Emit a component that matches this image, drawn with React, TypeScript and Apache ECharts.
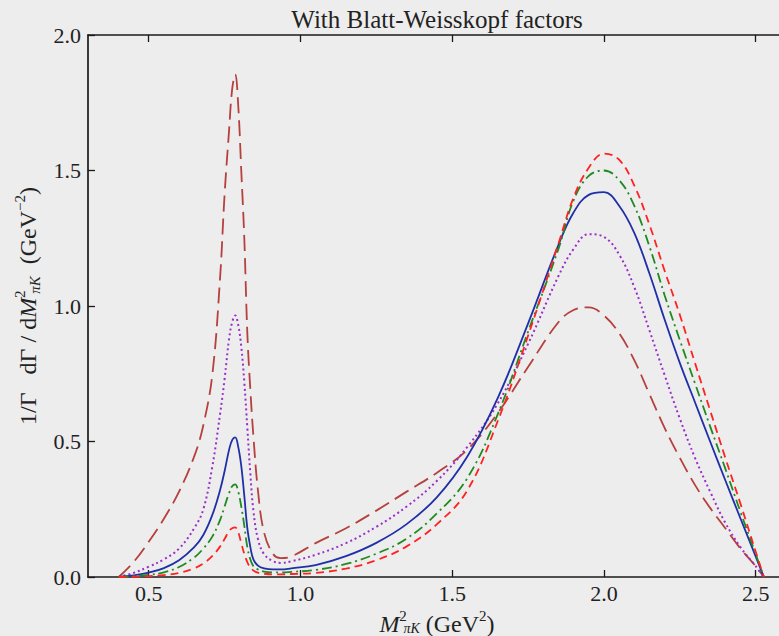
import React, { useEffect, useRef } from "react";
import * as echarts from "echarts";

// M^2_{piK} sample positions (GeV^2)
const xs = [0.401, 0.45, 0.5, 0.55, 0.6, 0.65, 0.68, 0.71, 0.735, 0.75, 0.765, 0.775, 0.785, 0.795, 0.805, 0.815, 0.825, 0.835, 0.845, 0.86, 0.88, 0.91, 0.935, 0.97, 1.05, 1.15, 1.25, 1.35, 1.45, 1.55, 1.65, 1.75, 1.85, 1.9, 1.95, 2.0, 2.05, 2.1, 2.15, 2.2, 2.25, 2.3, 2.35, 2.4, 2.45, 2.5, 2.527];

const brownLongDash = [0, 0.055, 0.13, 0.215, 0.315, 0.445, 0.56, 0.75, 1.1, 1.41, 1.65, 1.8, 1.855, 1.74, 1.5, 1.25, 0.9, 0.69, 0.52, 0.32, 0.165, 0.085, 0.07, 0.076, 0.125, 0.18, 0.245, 0.315, 0.385, 0.47, 0.605, 0.775, 0.94, 0.985, 0.995, 0.965, 0.9, 0.8, 0.675, 0.55, 0.44, 0.34, 0.255, 0.18, 0.105, 0.04, 0];
const purpleDotted = [0, 0.015, 0.038, 0.065, 0.105, 0.18, 0.25, 0.41, 0.6, 0.73, 0.88, 0.94, 0.965, 0.93, 0.85, 0.72, 0.55, 0.38, 0.245, 0.14, 0.085, 0.058, 0.052, 0.058, 0.082, 0.125, 0.185, 0.26, 0.355, 0.48, 0.64, 0.86, 1.11, 1.21, 1.265, 1.255, 1.19, 1.07, 0.91, 0.745, 0.585, 0.44, 0.315, 0.2, 0.11, 0.04, 0];
const blueSolid = [0, 0.006, 0.016, 0.033, 0.062, 0.11, 0.155, 0.23, 0.32, 0.39, 0.47, 0.505, 0.515, 0.48, 0.41, 0.3, 0.18, 0.11, 0.065, 0.042, 0.032, 0.028, 0.028, 0.032, 0.044, 0.077, 0.126, 0.195, 0.295, 0.445, 0.66, 0.935, 1.225, 1.345, 1.41, 1.42, 1.37, 1.27, 1.12, 0.95, 0.79, 0.645, 0.5, 0.357, 0.216, 0.076, 0];
const greenDashDot = [0, 0.003, 0.008, 0.017, 0.037, 0.072, 0.105, 0.15, 0.21, 0.26, 0.31, 0.335, 0.342, 0.315, 0.26, 0.19, 0.11, 0.065, 0.04, 0.028, 0.02, 0.017, 0.017, 0.019, 0.026, 0.048, 0.086, 0.142, 0.235, 0.365, 0.6, 0.905, 1.21, 1.39, 1.48, 1.5, 1.465, 1.37, 1.22, 1.04, 0.875, 0.715, 0.556, 0.4, 0.24, 0.085, 0];
const redDashed = [0, 0.001, 0.003, 0.007, 0.015, 0.032, 0.05, 0.078, 0.112, 0.14, 0.17, 0.18, 0.183, 0.165, 0.125, 0.085, 0.055, 0.035, 0.024, 0.016, 0.012, 0.01, 0.01, 0.011, 0.015, 0.031, 0.062, 0.113, 0.195, 0.32, 0.575, 0.89, 1.23, 1.4, 1.51, 1.562, 1.54, 1.445, 1.3, 1.13, 0.968, 0.79, 0.615, 0.44, 0.27, 0.094, 0];

const xTicks = [0.5, 1.0, 1.5, 2.0, 2.5];
const titleText = "With Blatt-Weisskopf factors";

const FONT = "Liberation Serif";
const TXT = "#222222";

export default function App() {
  const ref = useRef<HTMLDivElement>(null);
  useEffect(() => {
    if (!ref.current) return;
    const chart = echarts.init(ref.current, null, { renderer: "svg" });
    const pair = (ys: number[]) => xs.map((x, i) => [x, ys[i]]);
    const base = { fontFamily: FONT, color: TXT, fontSize: 24 };
    const richY = {
      n: { ...base },
      it: { ...base, fontStyle: "italic" },
      sup: { ...base, fontSize: 15, padding: [0, 0, 16, 3], width: 1 },
      supn: { ...base, fontSize: 15, padding: [0, 0, 16, 0] },
      sub: { ...base, fontSize: 15, fontStyle: "italic", padding: [14, 0, 0, 0] },
    };
    const richX = {
      n: { ...base },
      it: { ...base, fontStyle: "italic" },
      sup: { ...base, fontSize: 15, padding: [0, 0, 16, 3], width: 1 },
      supn: { ...base, fontSize: 15, padding: [0, 0, 16, 0] },
      sub: { ...base, fontSize: 14, fontStyle: "italic", padding: [9, 0, 0, 0] },
    };
    const axisLine = { show: true, lineStyle: { color: "#1a1a1a", width: 1.7 } };
    const tickStyle = { color: "#1a1a1a", width: 1.3 };
    const mkSeries = (name: string, ys: number[], color: string, type: any, width: number) => ({
      name,
      type: "line",
      data: pair(ys),
      showSymbol: false,
      smooth: 0.4,
      xAxisIndex: 0,
      yAxisIndex: 0,
      lineStyle: { color, width, type, cap: "butt" },
    });
    chart.setOption({
      animation: false,
      backgroundColor: "#ededed",
      graphic: [
        {
          type: "text",
          x: 437,
          y: 19,
          style: {
            text: titleText,
            fill: TXT,
            font: `25px "${FONT}"`,
            textAlign: "center",
            textVerticalAlign: "middle",
          },
        },
      ],
      grid: { left: 88, top: 35, right: -7, bottom: 59, outerBoundsMode: "none", containLabel: false },
      xAxis: [
        {
          type: "value",
          min: 0.3,
          max: 2.6,
          position: "bottom",
          axisLine,
          axisTick: { show: true, inside: true, length: 7, customValues: xTicks, lineStyle: tickStyle },
          axisLabel: {
            customValues: xTicks,
            formatter: (v: number) => v.toFixed(1),
            fontFamily: FONT,
            fontSize: 22,
            color: TXT,
            margin: 5,
          },
          splitLine: { show: false },
          name: "{it|M}{sup|2}{sub|πK} {n|(GeV}{supn|2}{n|)}",
          nameLocation: "middle",
          nameGap: 30,
          nameTextStyle: { rich: richX, fontFamily: FONT, fontSize: 24, color: TXT },
        },
        {
          type: "value",
          min: 0.3,
          max: 2.6,
          position: "top",
          axisLine,
          axisTick: { show: true, inside: true, length: 7, customValues: xTicks, lineStyle: tickStyle },
          axisLabel: { show: false },
          splitLine: { show: false },
        },
      ],
      yAxis: {
        type: "value",
        min: 0,
        max: 2,
        interval: 0.5,
        axisLine,
        axisTick: { show: true, inside: true, length: 7, lineStyle: tickStyle },
        axisLabel: {
          formatter: (v: number) => v.toFixed(1),
          fontFamily: FONT,
          fontSize: 22,
          color: TXT,
          margin: 7,
        },
        splitLine: { show: false },
        name: "{n|1/Γ   dΓ / d}{it|M}{sup|2}{sub|πK} {n| (GeV}{supn|−2}{n|)}",
        nameLocation: "middle",
        nameRotate: 90,
        nameGap: 45,
        nameTextStyle: { rich: richY, fontFamily: FONT, fontSize: 24, color: TXT },
      },
      series: [
        mkSeries("brown", brownLongDash, "#b5403e", [16, 7], 1.8),
        mkSeries("purple", purpleDotted, "#9a2fc8", [2, 3], 2),
        mkSeries("blue", blueSolid, "#1f2fa8", "solid", 1.8),
        mkSeries("green", greenDashDot, "#1f8a1f", [10, 4, 2, 4], 1.8),
        mkSeries("red", redDashed, "#ff2222", [8, 5], 1.8),
      ],
    });
    return () => chart.dispose();
  }, []);
  return <div ref={ref} style={{ position: "absolute", left: 0, top: 0, width: 779, height: 636 }} />;
}
